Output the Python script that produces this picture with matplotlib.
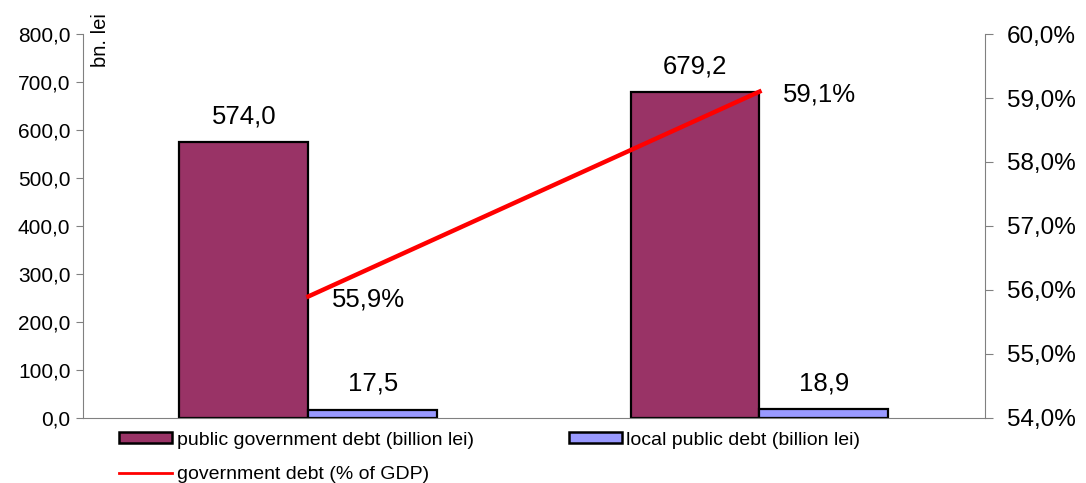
import matplotlib
matplotlib.use('Agg')
import matplotlib.pyplot as plt
from matplotlib.patches import Patch
from matplotlib.lines import Line2D

plt.rcParams['font.family'] = ['Liberation Sans', 'DejaVu Sans']

# data
periods = ['2021', '2022']
gov_debt = [574.0, 679.2]        # billion lei
local_debt = [17.5, 18.9]        # billion lei
debt_gdp = [55.9, 59.1]          # % of GDP

left_ticks = [0, 100, 200, 300, 400, 500, 600, 700, 800]
right_ticks = [54, 55, 56, 57, 58, 59, 60]

MAROON = '#993366'
LAVENDER = '#9999ff'
GRAY = '#808080'


def comma(v, digits=1):
    return f'{v:.{digits}f}'.replace('.', ',')


fig = plt.figure(figsize=(10.86, 4.83), dpi=100)
ax = fig.add_axes([0.0764, 0.1346, 0.907 - 0.0764, 0.9296 - 0.1346])
ax2 = ax.twinx()

x = list(range(len(periods)))
w = 0.286
b1 = ax.bar([i - w / 2 for i in x], gov_debt, w, color=MAROON,
            edgecolor='black', linewidth=1.6, zorder=2)
b2 = ax.bar([i + w / 2 for i in x], local_debt, w, color=LAVENDER,
            edgecolor='black', linewidth=1.6, zorder=2)

for r, v in zip(list(b1) + list(b2), gov_debt + local_debt):
    ax.annotate(comma(v), (r.get_x() + r.get_width() / 2, v),
                xytext=(0, 10), textcoords='offset points',
                ha='center', va='bottom', fontsize=18.5)

ax.set_xlim(-0.5, 1.5)
ax.set_ylim(0, 800)
ax.set_yticks(left_ticks)
ax.set_yticklabels([comma(v) for v in left_ticks], fontsize=15)
ax.set_xticks([])
ax.tick_params(axis='y', direction='out', length=5, color=GRAY, pad=4)
for s in ('top', 'right'):
    ax.spines[s].set_visible(False)
for s in ('left', 'bottom'):
    ax.spines[s].set_color(GRAY)
ax.text(0.019, 1.055, 'bn. lei', transform=ax.transAxes, rotation=90,
        ha='center', va='top', fontsize=14.5)

ax2.plot(x, debt_gdp, color='#ff0000', lw=3.2, zorder=3)
ax2.set_ylim(54, 60)
ax2.set_yticks(right_ticks)
ax2.set_yticklabels([comma(v) + '%' for v in right_ticks], fontsize=17.5)
ax2.tick_params(axis='y', direction='out', length=6, color=GRAY, pad=10)
for s in ('top', 'left', 'bottom'):
    ax2.spines[s].set_visible(False)
ax2.spines['right'].set_color(GRAY)
for xi, v in zip(x, debt_gdp):
    ax2.annotate(comma(v) + '%', (xi, v), xytext=(17, -2),
                 textcoords='offset points', ha='left', va='center', fontsize=18.5)

handles = [
    Patch(facecolor=MAROON, edgecolor='black', linewidth=1.8),
    Line2D([0], [0], color='#ff0000', lw=2),
    Patch(facecolor=LAVENDER, edgecolor='black', linewidth=1.8),
]
labels = ['public government debt (billion lei)', 'government debt (% of GDP)',
          'local public debt (billion lei)']
fig.legend(handles, labels, ncol=2, loc='upper left',
           bbox_to_anchor=(0.110, 0.106), frameon=False, fontsize=14,
           handlelength=2.7, handleheight=0.5, handletextpad=0.25,
           columnspacing=4.9, labelspacing=0.9, borderaxespad=0, borderpad=0)

fig.savefig('out.png', dpi=100)
